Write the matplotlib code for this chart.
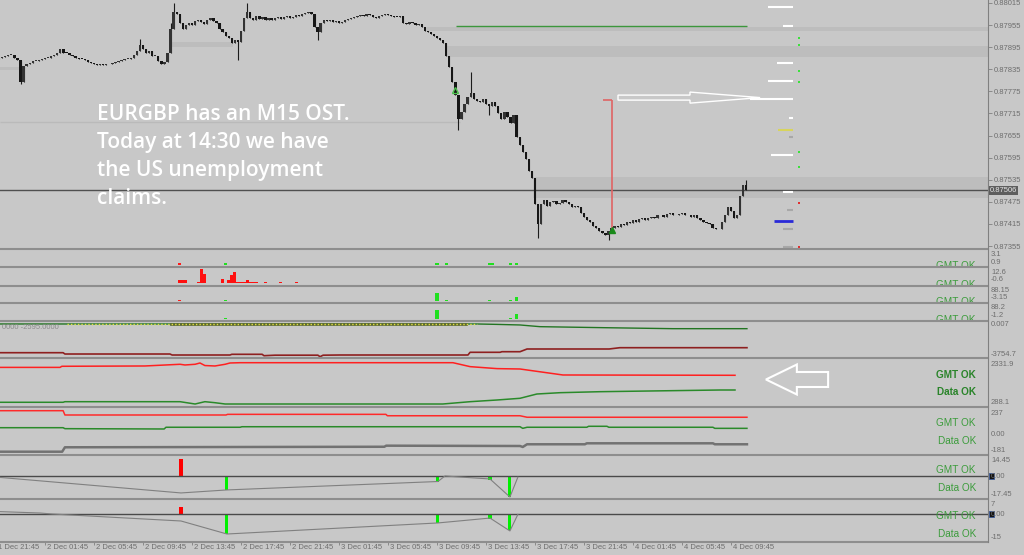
import matplotlib.pyplot as plt
from matplotlib.patches import Rectangle, FancyArrow
from matplotlib.lines import Line2D
from matplotlib.transforms import blended_transform_factory

# --- dane ---------------------------------------------------------------
# zamknięcia świec M15 w punktach powyżej 0.87000 (1 punkt = 0.00001)
closes = [866, 868, 871, 874, 874, 866, 860,
          800,
          845, 850, 853, 857, 858, 860, 862, 865, 866, 870, 875, 880,
          890,
          880, 878, 874, 870, 866, 864, 862, 860, 856, 852, 848,
          846, 849, 847, 850, 848,
          852, 855, 857, 860, 862, 864, 866,
          875, 885, 900, 890, 880,
          885, 870, 872,
          858, 850, 856,
          880, 945,
          990,
          985, 960, 945, 955,
          960, 955, 965, 970, 962, 958, 968, 975, 965, 960,
          945, 935, 925, 920, 905, 915, 910,
          940, 975, 990,
          975, 970, 980, 972, 978, 970, 975, 968, 974, 978, 972, 976, 980,
          975, 978, 982, 980, 985, 988, 990, 985,
          950, 935,
          960, 968, 965, 970, 962, 966, 960, 964, 968, 972,
          975, 978, 980, 982, 980, 985, 982, 978, 975, 980, 983, 985, 982,
          980, 978, 976, 980,
          960, 958, 962, 960, 955, 957,
          950, 940, 935, 930, 925, 920, 915, 905,
          870, 840, 800, 765, 700,
          720, 740, 760, 770, 755,
          750, 745, 755, 740, 735, 745,
          735, 715, 700, 720, 705, 690, 710,
          650, 630, 610, 590, 560,
          540, 470, 415,
          470, 480, 465, 475, 478, 470, 472, 480, 475, 468, 460, 465, 462,
          445, 435, 425, 420, 410, 405, 395, 390, 385,
          395,
          405, 410, 408, 415, 412, 420, 418, 425, 420, 428, 430, 425, 432,
          435, 430, 438, 440, 435, 442, 445, 440, 438, 442, 445, 440, 438,
          435, 440,
          430, 425, 420, 418, 415,
          405, 400, 402,
          420, 440, 460, 450,
          430, 440,
          490, 520, 506]
first_open = 862
spike_hi = {46: 917, 56: 960, 57: 1015, 81: 1015, 154: 828, 244: 534}
spike_lo = {7: 795, 78: 860, 104: 915, 150: 670, 160: 710, 176: 377, 199: 371}

price_ticks = [0.88015, 0.87955, 0.87895, 0.87835, 0.87775, 0.87715,
               0.87655, 0.87595, 0.87535, 0.87475, 0.87415, 0.87355]
last_price = 0.87506

time_bars = [-1, 15, 31, 47, 63, 79, 95, 111, 127, 143, 159, 175, 191, 207, 223, 239]
time_labels = ['1 Dec 21:45', '2 Dec 01:45', '2 Dec 05:45', '2 Dec 09:45',
               '2 Dec 13:45', '2 Dec 17:45', '2 Dec 21:45', '3 Dec 01:45',
               '3 Dec 05:45', '3 Dec 09:45', '3 Dec 13:45', '3 Dec 17:45',
               '3 Dec 21:45', '4 Dec 01:45', '4 Dec 05:45', '4 Dec 09:45']

# poziomy po prawej stronie wykresu ceny
level_prices = [1003, 952, 852, 803, 754, 703, 670, 651, 602, 502, 453, 423, 401, 352]
level_from = [251.1, 256.0, 254.0, 251.1, 245.2, 258.0, 254.4, 258.0, 252.1,
              256.0, 257.3, 253.0, 256.0, 256.0]
level_colors = ['white', 'white', 'white', 'white', 'white', 'white', '#d8d45c',
                '#a8a8a8', 'white', 'white', '#a8a8a8', '#2a2ad8', '#a8a8a8', '#a8a8a8']
level_end = 259.2
dots_bar = 261.2
dots_green = [920, 901, 830, 800, 610, 570]
dots_red = [472, 352]

# szare strefy (od świecy, do świecy, dół, góra)
zones = [(0.3, 6.8, 833, 841), (55.8, 76.4, 895, 909), (139.7, 323, 939, 950),
         (146.3, 323, 868, 898), (174.3, 323, 485, 542)]
old_level = (692, 0.3, 150.5)
green_level = (952, 149.2, 244.2)
red_marker = (200.1, 197.2, 398, 752)
arrow_right = (202.1, 248.5, 758)
arrow_up_hollow = (148.9, 779)
arrow_up_solid = (200.1, 399)

note = "EURGBP has an M15 OST.\nToday at 14:30 we have\nthe US unemployment\nclaims."

# panel 3: histogram
p3_bars = [59, 60, 61, 65, 66, 67, 73, 75, 76, 77, 78, 79, 80, 81, 82, 83, 84, 87, 92, 97]
p3_vals = [2.7, 2.7, 2.7, 1.1, 11.5, 7.7, 3.5, 2.7, 6.8, 9.1, 1.1, 1.1, 1.1, 2.7,
           1.1, 1.1, 1.1, 1.1, 1.1, 1.1]
# sygnały w panelach 2-5 (świeca, wartość, kolor)
p2_sig = [(59, 0.35, 'r'), (74, 0.35, 'g'), (143, 0.35, 'g'), (146, 0.35, 'g'),
          (160, 0.35, 'g'), (161, 0.35, 'g'), (167, 0.35, 'g'), (169, 0.35, 'g')]
p3_sig = [(74, 0.6, 'g'), (143, 0.6, 'g'), (146, 0.6, 'g'), (160, 0.6, 'g'),
          (167, 0.6, 'g'), (169, 0.6, 'g')]
p4_sig = [(59, 4, 'r'), (74, 4, 'g'), (143, 49, 'g'), (146, 4, 'g'),
          (160, 4, 'g'), (167, 4, 'g'), (169, 23, 'g')]
p5_sig = [(74, 4, 'g'), (143, 52, 'g'), (167, 4, 'g'), (169, 29, 'g')]

# panel 6
p6_green_x = [0.3, 156, 162.6, 170.1, 176.6, 197.2, 220, 244.2]
p6_green_y = [-215, -215, -260, -322, -504, -611, -719, -719]
p6_dots_x = [22.2, 156]
p6_dots_y = [-215, -215]
p6_red_x = [0.3, 20.9, 21.5, 55.8, 56.5, 75.4, 76, 85.9, 86.5, 90.1, 104.1, 104.8,
            105.8, 111.3, 153.1, 153.8, 163.6, 164.2, 170.1, 172.4, 199.2, 202.7, 244.2]
p6_red_y = [-3294, -3294, -3434, -3434, -3541, -3541, -3466, -3466, -3616, -3560,
            -3560, -3723, -3560, -3541, -3541, -3251, -3251, -3187, -3187, -2897,
            -2897, -2758, -2758]
# panel 7
p7_red_x = [0.3, 19.9, 20.5, 47.6, 59.1, 60.7, 64, 65.6, 67.2, 70.5, 73.8, 75.4,
            78.7, 148.2, 153.8, 162.6, 170.1, 184.1, 240.3]
p7_red_y = [1996, 1996, 2046, 2060, 2137, 2105, 2137, 2196, 2080, 2060, 2137, 2196,
            2209, 2209, 2030, 1940, 1923, 1651, 1637]
p7_green_x = [0.3, 20.9, 21.5, 59.1, 64, 67.2, 70.5, 73.8, 144.9, 153.8, 162.6,
              170.1, 175.6, 183.2, 196.2, 235.4, 240.3]
p7_green_y = [411, 411, 438, 438, 333, 438, 392, 333, 333, 438, 515, 592, 787, 847,
              892, 969, 969]
# panel 8
p8_red_x = [0.3, 20.9, 21.5, 74.1, 74.6, 126.3, 126.8, 170.1, 172.4, 244.2]
p8_red_y = [212, 212, 172, 172, 178, 178, 165, 165, 151, 151]
p8_green_x = [0.3, 20.9, 21.5, 53.9, 54.5, 78.7, 79.3, 170.1, 171, 172.4, 191.9,
              192.5, 198.5, 199.1, 233.1, 233.7, 244.2]
p8_green_y = [54, 54, 45, 42, 58, 58, 63, 63, 48, 58, 58, 67, 67, 58, 58, 48, 48]
p8_gray_x = [0.3, 20.6, 21.5, 125.8, 126.4, 170.1, 171, 172.4, 191.3, 191.9, 233.1,
             233.7, 244.2]
p8_gray_y = [-169, -169, -128, -123, -113, -116, -125, -100, -100, -91, -91, -100, -100]
# panel 9
p9_red = [(59.4, 14.45)]
p9_green = [(74.4, -11.6), (143.3, -5.0), (160.3, -3.3), (166.8, -17.45)]
p9_line_x = [0.3, 59.4, 74.4, 143.3, 145.6, 147.2, 160.3, 166.8, 169.4]
p9_line_y = [-1.2, -14.1, -11.6, -4.6, 0, -0.3, -2.5, -17.45, -1]
# panel 10
p10_red = [(59.4, 5.0)]
p10_green = [(74.4, -14.3), (143.3, -6.4), (160.3, -3.6), (166.8, -11.4)]
p10_line_x = [0.3, 13.4, 17.3, 59.4, 74.4, 143.3, 160.3, 166.8, 169.4]
p10_line_y = [1.7, 0.7, 0, -5.0, -14.3, -6.4, -2.9, -12.1, -0.3]
left_arrow = (270.7, 250.4, 1446)

side_labels = [(254.7, '3.1'), (262.7, '0.9'), (272.7, '12.6'), (279.7, '-0.6'),
               (290.7, '88.15'), (297.7, '-3.15'), (307.7, '88.2'), (315.3, '-1.2'),
               (324.7, '0.007'), (354.3, '-3754.7'), (364.7, '2331.9'), (402.3, '288.1'),
               (413.7, '237'), (434.3, '0.00'), (450, '-181'), (460.7, '14.45'),
               (476, '0.00'), (495, '-17.45'), (504.7, '7'), (514.3, '0.00'), (537.7, '-15')]

# --- układ ---------------------------------------------------------------
W, H = 1024, 555
PW = 988
BG = '#c8c8c8'
PX_BAR = 3.0625
X0 = 0.3
XMAX = X0 + PW / PX_BAR
SMALL = dict(family=['Liberation Sans', 'DejaVu Sans'], fontsize=5.5, color='#6e6e6e')
OKFONT = dict(family=['Liberation Sans', 'DejaVu Sans'], fontsize=7.2)
GREEN_OK = '#3c9c3c'

fig = plt.figure(figsize=(W / 100, H / 100), dpi=100, facecolor=BG)


def panel(top, bottom, ylim):
    ax = fig.add_axes([0, 1 - bottom / H, PW / W, (bottom - top) / H])
    ax.set_facecolor(BG)
    ax.set_xlim(X0, XMAX)
    ax.set_ylim(*ylim)
    ax.set_xticks([])
    ax.set_yticks([])
    for s in ax.spines.values():
        s.set_visible(False)
    return ax


def ok_text(ax, y, s, bold=False):
    ax.text(976 / W, 1 - y / H, s, transform=fig.transFigure, ha='right', va='center',
            color='#2a842a' if bold else GREEN_OK, weight='bold' if bold else 'normal',
            clip_on=True, **OKFONT)


def p(v):
    return 0.87 + v / 1e5


# --- panel główny --------------------------------------------------------
ax = panel(0, 247.5, (p(351), p(1023)))

for x0, x1, lo, hi in zones:
    ax.fill_between([x0, x1], p(lo), p(hi), color='#bdbdbd', lw=0, zorder=0)
ax.hlines(p(old_level[0]), old_level[1], old_level[2], color='#bababa', lw=1, zorder=1)
ax.axhline(last_price, color='#505050', lw=1, zorder=1)
ax.hlines(p(green_level[0]), green_level[1], green_level[2], color='#3c963c', lw=1)

opens = [first_open] + closes[:-1]
for i, (o, c) in enumerate(zip(opens, closes)):
    lo_b, hi_b = min(o, c), max(o, c)
    ax.vlines(i, p(min(lo_b, spike_lo.get(i, lo_b))), p(max(hi_b, spike_hi.get(i, hi_b))),
              color='#1c1c1c', lw=0.8, zorder=3)
    ax.bar(i, max(hi_b - lo_b, 2.5) / 1e5, bottom=p(lo_b), width=0.75,
           color='#161616' if c < o else '#333333', lw=0, zorder=3)

ax.hlines([p(v) for v in level_prices], level_from, level_end, colors=level_colors,
          lw=[2 if c == '#2a2ad8' else 1.5 for c in level_colors], zorder=4)
ax.scatter([dots_bar] * len(dots_green), [p(v) for v in dots_green], marker='s', s=2.2,
           color='#3ce03c', lw=0, zorder=4)
ax.scatter([dots_bar] * len(dots_red), [p(v) for v in dots_red], marker='s', s=2.2,
           color='#e03030', lw=0, zorder=4)

rx, rx0, rlo, rhi = red_marker
ax.vlines(rx, p(rlo), p(rhi), color='#e06464', lw=1.2, zorder=4)
ax.hlines(p(rhi), rx0, rx, color='#e06464', lw=1.2, zorder=4)

ax0, ax1, ay = arrow_right
ax.add_patch(FancyArrow(ax0, p(ay), ax1 - ax0, 0, width=13.6e-5, head_width=30e-5,
                        head_length=22.9, length_includes_head=True, fc='none',
                        ec='white', lw=1, zorder=5))
ax.plot(arrow_up_hollow[0], p(arrow_up_hollow[1]), marker='^', ms=5, mfc='none',
        mec='#4cc04c', mew=1, zorder=5)
ax.plot(arrow_up_solid[0], p(arrow_up_solid[1]), marker='^', ms=5, color='#1a8a1a', zorder=5)

ax.text(97 / PW, 1 - 104 / 247.5, note, transform=ax.transAxes, va='top', ha='left',
        color='white', fontsize=15, family=['Open Sans', 'DejaVu Sans'],
        weight='semibold', linespacing=1.43, zorder=6)

ax.set_yticks(price_ticks)
ax.set_yticklabels([f'{t:.5f}' for t in price_ticks])
ax.tick_params(axis='y', left=False, labelleft=False, right=True, labelright=True,
               length=3, width=0.6, pad=1.5, color='#808080')
for lab in ax.get_yticklabels():
    lab.set(**SMALL)
ax.text(1.0015, last_price, f'{last_price:.5f}', transform=blended_transform_factory(
    ax.transAxes, ax.transData), ha='left', va='center', family=['Liberation Sans'],
    fontsize=5.5, color='#e4e4e4', bbox=dict(boxstyle='square,pad=0.15', fc='#5e5e5e', ec='none'))

# --- panele 2-5 ------------------------------------------------------------
sig_col = {'r': '#ff1a1a', 'g': '#20e020'}
for top, bot, ylim, sig, oky in [(249.5, 265.5, (-0.2, 3.1), p2_sig, 266),
                                  (267.5, 284.5, (-1.0, 13.0), p3_sig, 284.5),
                                  (286.5, 301.5, (-6.5, 91), p4_sig, 302),
                                  (303.5, 319.5, (-4.2, 91.2), p5_sig, 320)]:
    a = panel(top, bot, ylim)
    if sig is p3_sig:
        a.bar(p3_bars, p3_vals, width=1.0, color='#ff1010', lw=0)
    a.bar([s[0] for s in sig], [s[1] for s in sig], width=1.0,
          color=[sig_col[s[2]] for s in sig], lw=0)
    ok_text(a, oky, 'GMT OK')

# --- panel 6 --------------------------------------------------------------
a6 = panel(321.5, 357, (-3754.7, 50))
a6.plot(p6_green_x, p6_green_y, color='#237523', lw=1)
a6.plot([56, 152.5], [-215, -215], color='#5d6a32', lw=2)
a6.plot(p6_dots_x, p6_dots_y, color='#e4e040', lw=1, ls=(0, (1, 1.5)))
a6.plot(p6_red_x, p6_red_y, color='#8e2020', lw=1.2)
a6.text(2 / PW, 0.83, '0000 -2595.0000', transform=a6.transAxes, va='center', **{**SMALL, 'color': '#8a8a8a'})

# --- panel 7 --------------------------------------------------------------
a7 = panel(359, 405.5, (265, 2377))
a7.plot(p7_red_x, p7_red_y, color='#ff2020', lw=1.1)
a7.plot(p7_green_x, p7_green_y, color='#2a8a2a', lw=1.1)
lx0, lx1, ly = left_arrow
a7.add_patch(FancyArrow(lx0, ly, lx1 - lx0, 0, width=681, head_width=1363, head_length=10.1,
                        length_includes_head=True, fc='none', ec='white', lw=1.5))
ok_text(a7, 375, 'GMT OK', bold=True)
ok_text(a7, 392, 'Data OK', bold=True)

# --- panel 8 --------------------------------------------------------------
a8 = panel(407.5, 453.5, (-185.7, 241.6))
a8.plot(p8_red_x, p8_red_y, color='#ff2a2a', lw=1.1)
a8.plot(p8_green_x, p8_green_y, color='#2a8a2a', lw=1.1)
a8.plot(p8_gray_x, p8_gray_y, color='#727272', lw=1.8)
ok_text(a8, 423, 'GMT OK')
ok_text(a8, 441, 'Data OK')

# --- panele 9-10 ----------------------------------------------------------
for top, bot, ylim, red, green, lx, ly, oky in [
        (455.5, 498, (-18.3, 17.0), p9_red, p9_green, p9_line_x, p9_line_y, (470, 488)),
        (500, 541, (-19.3, 10), p10_red, p10_green, p10_line_x, p10_line_y, (516, 534))]:
    a = panel(top, bot, ylim)
    a.axhline(0, color='#4a4a4a', lw=1)
    a.plot(lx, ly, color='#808080', lw=0.8)
    a.bar([r[0] for r in red], [r[1] for r in red], width=1.0, color='#ff0000', lw=0)
    a.bar([g[0] for g in green], [g[1] for g in green], width=1.0, color='#00f000', lw=0)
    ok_text(a, oky[0], 'GMT OK')
    ok_text(a, oky[1], 'Data OK')
    last = a

# oś czasu
last.set_xticks([b for b in time_bars if b > X0])
last.tick_params(axis='x', length=3, width=0.6, color='#808080', labelbottom=False)
tr = blended_transform_factory(last.transData, fig.transFigure)
for b, lab in zip(time_bars, time_labels):
    last.text(b + 0.65, 1 - 547.5 / H, lab, transform=tr, ha='left', va='center',
              clip_on=False, **SMALL)

# separatory i ramka
for y in [248.5, 266.5, 285.5, 302.5, 320.5, 358, 406.5, 454.5, 499, 542]:
    fig.add_artist(Line2D([0, PW / W], [1 - y / H] * 2, color='#8e8e8e', lw=1.5))
fig.add_artist(Line2D([PW / W] * 2, [1, 1 - 542 / H], color='#808080', lw=0.8))

for y, s in side_labels:
    fig.text(991 / W, 1 - y / H, s, ha='left', va='center', **SMALL)
for y in [476, 514.3]:
    fig.add_artist(Rectangle((989 / W, 1 - (y + 3) / H), 5 / W, 6 / H, transform=fig.transFigure,
                             fc='#151515', ec='#3a5a9a', lw=0.6))

fig.savefig('out.png', dpi=100, facecolor=BG)
